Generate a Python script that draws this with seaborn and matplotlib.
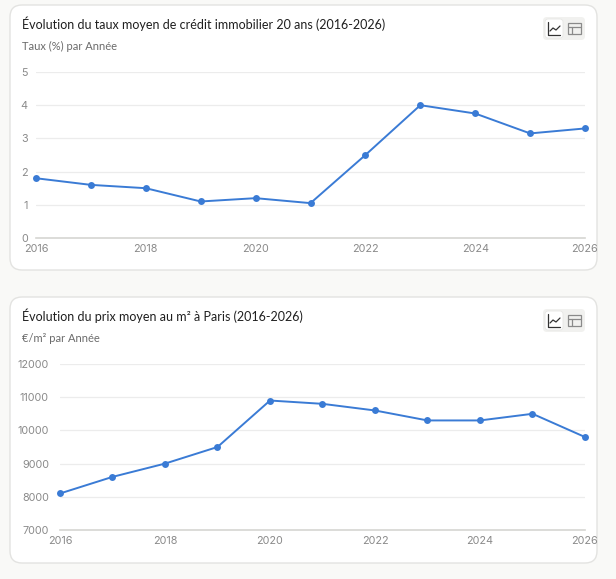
import matplotlib
matplotlib.use("Agg")
import matplotlib.pyplot as plt
from matplotlib.patches import FancyBboxPatch, Rectangle
import seaborn as sns
import pandas as pd

# données
annees = [2016, 2017, 2018, 2019, 2020, 2021, 2022, 2023, 2024, 2025, 2026]
taux = [1.8, 1.6, 1.5, 1.1, 1.2, 1.05, 2.5, 4.0, 3.75, 3.15, 3.3]
prix_m2 = [8100, 8600, 9000, 9500, 10900, 10800, 10600, 10300, 10300, 10500, 9800]

titre_1 = "Évolution du taux moyen de crédit immobilier 20 ans (2016-2026)"
sous_titre_1 = "Taux (%) par Année"
titre_2 = "Évolution du prix moyen au m² à Paris (2016-2026)"
sous_titre_2 = "€/m² par Année"

W, H = 616, 579
BLEU = "#3a7bd5"
GRIS_TXT = "#8a8a8a"

sns.set_theme(style="white")
plt.rcParams["font.family"] = ["Inter", "DejaVu Sans"]

fig = plt.figure(figsize=(W / 100, H / 100), dpi=100)
fig.patch.set_facecolor("#f9f9f7")

# fond en pixels
bg = fig.add_axes([0, 0, 1, 1], zorder=0)
bg.set_xlim(0, W)
bg.set_ylim(H, 0)
bg.axis("off")


def carte(y0, y1, titre, sous_titre):
    bg.add_patch(FancyBboxPatch((10, y0), 587, y1 - y0,
                                boxstyle="round,pad=0,rounding_size=12",
                                fc="white", ec="#e3e3e1", lw=1))
    bg.text(22, y0 + 19, titre, fontsize=9.0, color="#1f1f1f",
            va="center", ha="left", family=["Lato", "DejaVu Sans"])
    bg.text(22, y0 + 41, sous_titre, fontsize=8, color="#6b6b6b",
            va="center", ha="left", family=["Lato", "DejaVu Sans"])
    # boutons graphique / tableau
    bx, by = 543, y0 + 12
    bg.add_patch(FancyBboxPatch((bx, by), 42, 23,
                                boxstyle="round,pad=0,rounding_size=4",
                                fc="#f1f1ef", ec="none"))
    bg.add_patch(FancyBboxPatch((bx + 2, by + 2), 18, 19,
                                boxstyle="round,pad=0,rounding_size=3",
                                fc="white", ec="#e6e6e4", lw=0.6))
    ix, iy = bx + 5, by + 5
    bg.plot([ix, ix, ix + 12], [iy, iy + 13, iy + 13], color="#333333", lw=0.9)
    bg.plot([ix + 2, ix + 5, ix + 8, ix + 12], [iy + 9, iy + 6, iy + 8, iy + 4],
            color="#333333", lw=0.9)
    tx, ty = bx + 25, by + 6
    bg.add_patch(Rectangle((tx, ty), 13, 11, fc="none", ec="#8a8a8a", lw=0.9))
    bg.plot([tx, tx + 13], [ty + 3.5, ty + 3.5], color="#8a8a8a", lw=0.9)
    bg.plot([tx + 4, tx + 4], [ty + 3.5, ty + 11], color="#8a8a8a", lw=0.9)


carte(5, 270, titre_1, sous_titre_1)
carte(297, 563, titre_2, sous_titre_2)


def graphe(x0, x1, ytop, ybot, valeurs, ylim, yticks, ypad):
    ax = fig.add_axes([x0 / W, (H - ybot) / H, (x1 - x0) / W, (ybot - ytop) / H],
                      zorder=2)
    ax.set_facecolor("none")
    df = pd.DataFrame({"annee": annees, "valeur": valeurs})
    sns.lineplot(data=df, x="annee", y="valeur", ax=ax, color=BLEU,
                 marker="o", markersize=5, markeredgewidth=0, linewidth=1.4,
                 clip_on=False)
    ax.set_xlim(2016, 2026)
    ax.set_ylim(*ylim)
    ax.set_xticks([2016, 2018, 2020, 2022, 2024, 2026])
    ax.set_yticks(yticks)
    ax.grid(axis="y", color="#ececec", lw=0.9)
    ax.set_axisbelow(True)
    for s in ["top", "right", "left"]:
        ax.spines[s].set_visible(False)
    ax.spines["bottom"].set_color("#d6d6d2")
    ax.spines["bottom"].set_linewidth(1.2)
    ax.tick_params(axis="both", length=0, labelsize=7.8, labelcolor=GRIS_TXT)
    ax.tick_params(axis="y", pad=ypad)
    ax.tick_params(axis="x", pad=4.5)
    ax.set_xlabel("")
    ax.set_ylabel("")
    return ax


graphe(36, 585, 72, 238, taux, (0, 5), [0, 1, 2, 3, 4, 5], 6)
graphe(60, 585, 364, 530, prix_m2, (7000, 12000),
       [7000, 8000, 9000, 10000, 11000, 12000], 8)

fig.savefig("out.png", dpi=100, facecolor=fig.get_facecolor())
